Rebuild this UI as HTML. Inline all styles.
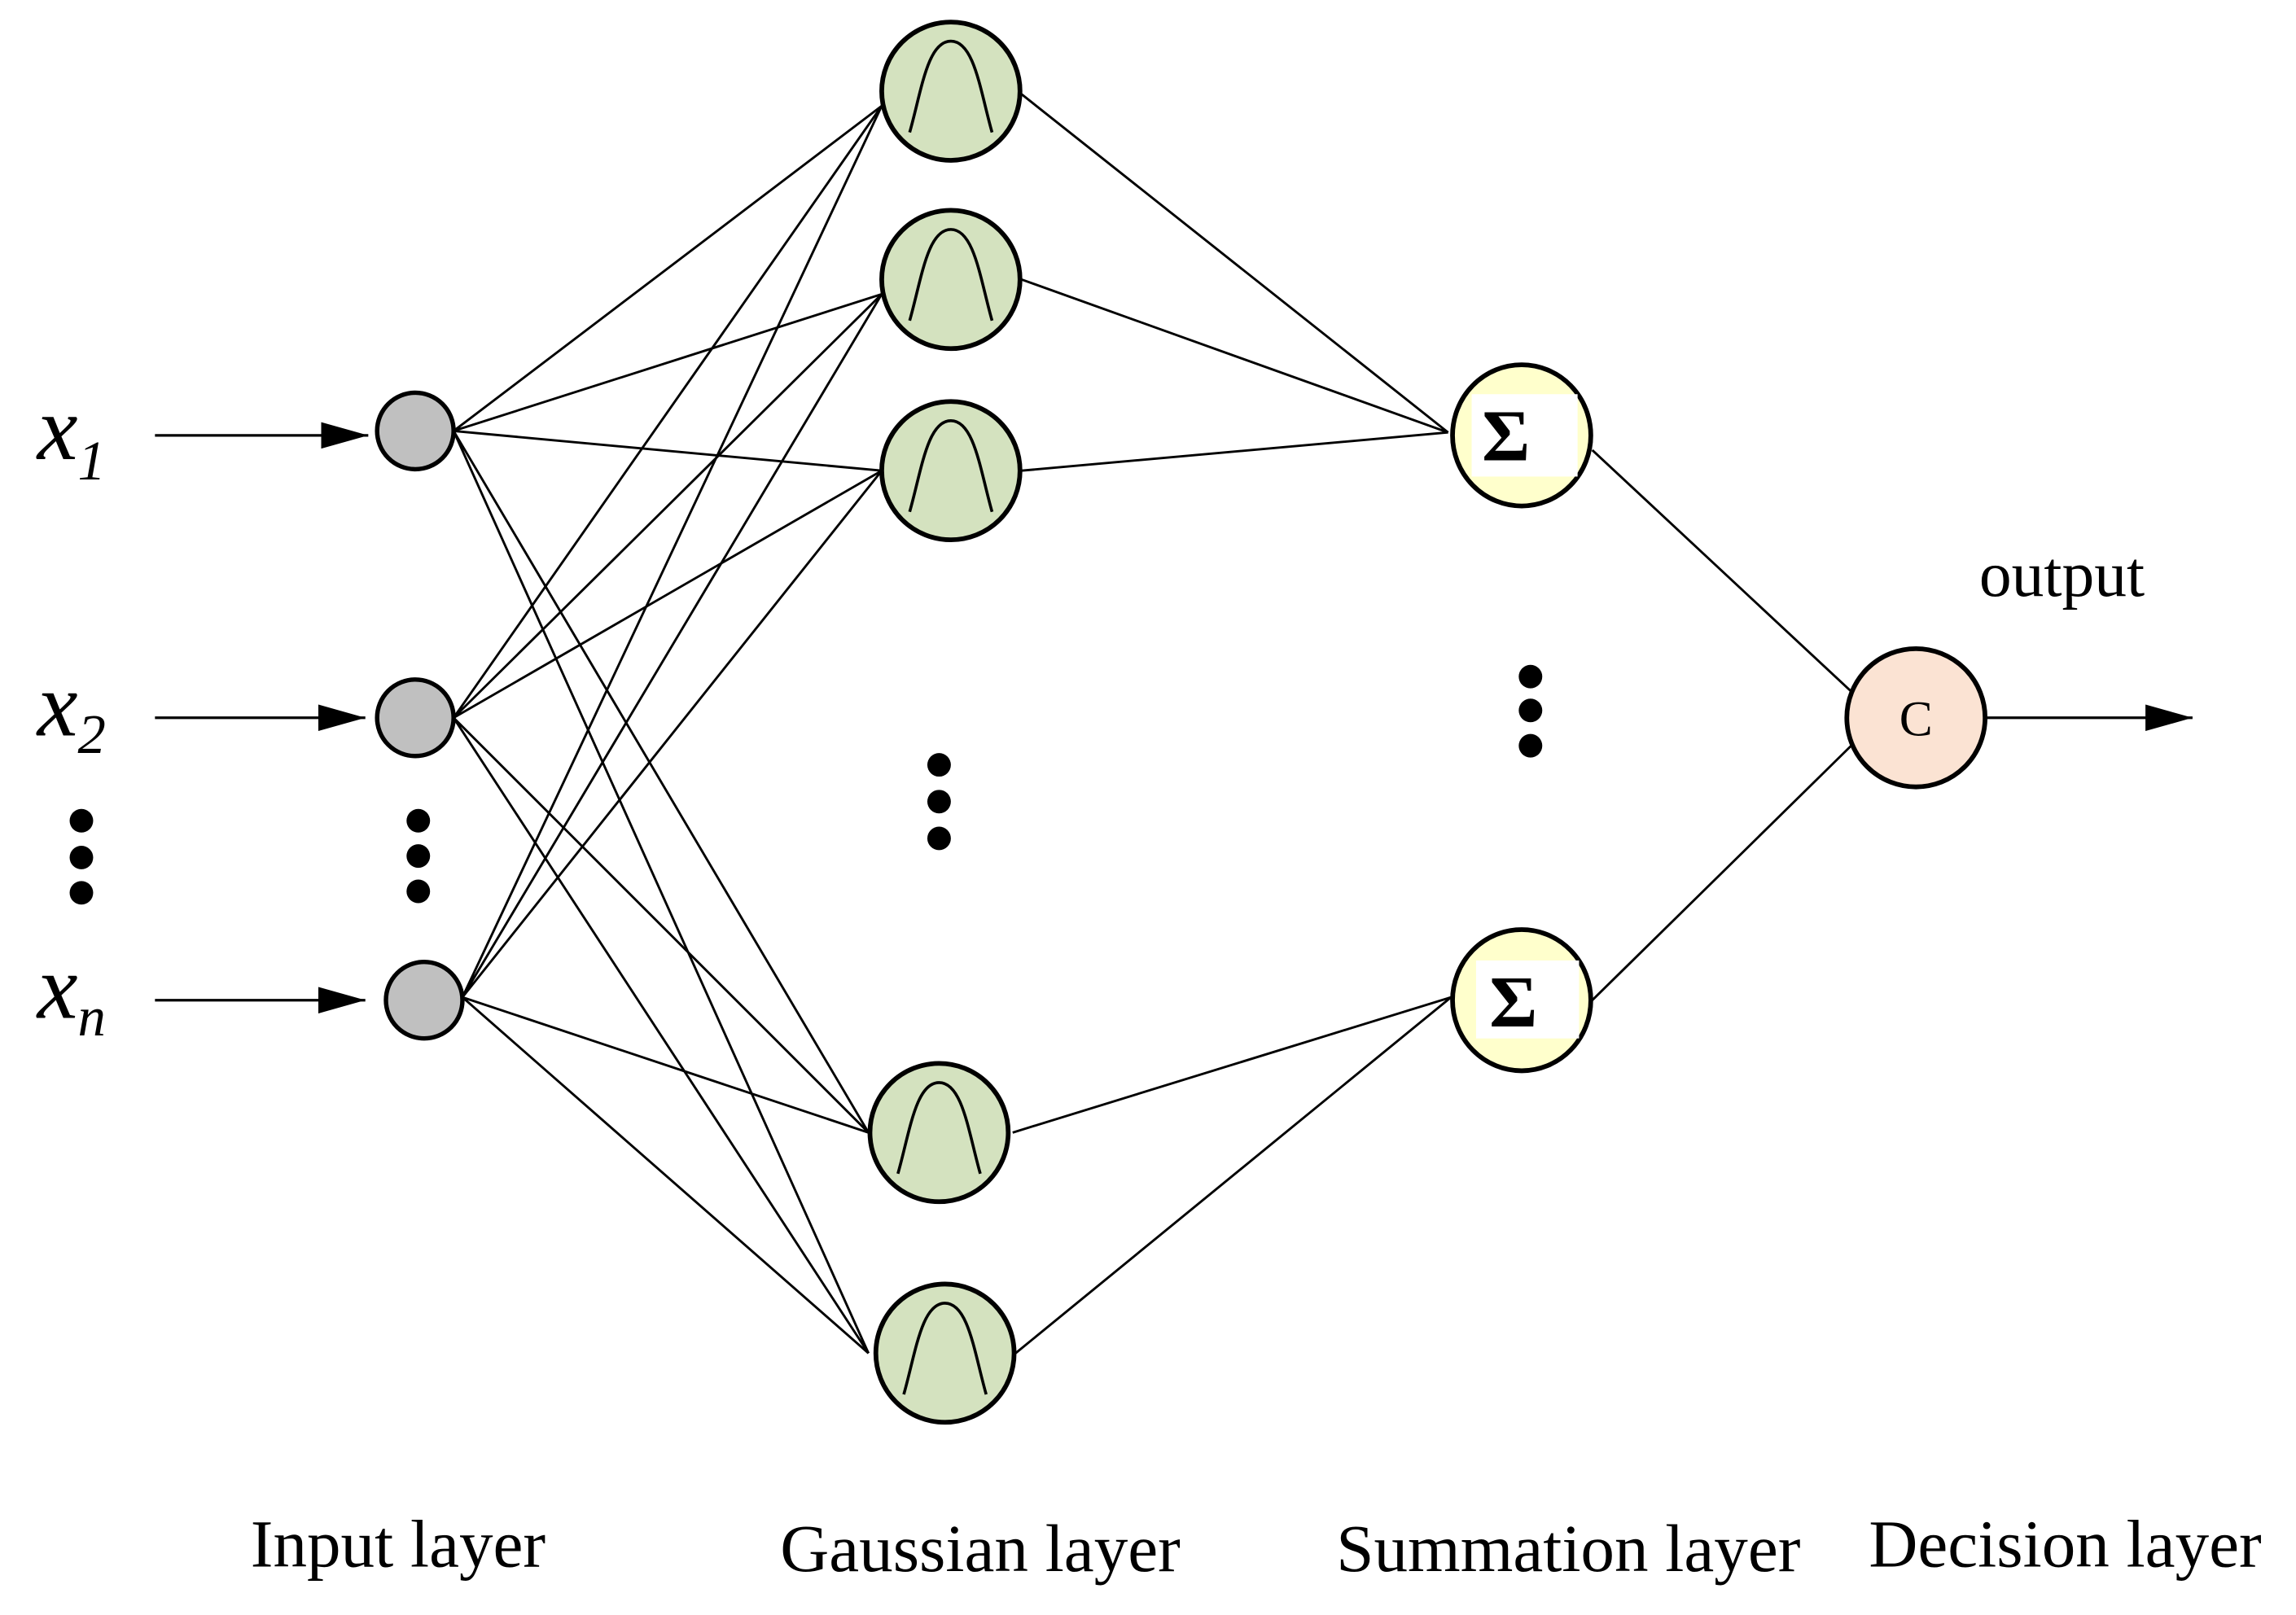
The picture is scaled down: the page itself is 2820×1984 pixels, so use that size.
<!DOCTYPE html>
<html><head><meta charset="utf-8"><style>
html,body{margin:0;padding:0;background:#fff;}
svg{display:block;}
text{font-family:"Liberation Serif",serif;fill:#000;}
</style></head><body>
<svg width="2820" height="1984" viewBox="0 0 1560 1098" xmlns="http://www.w3.org/2000/svg">
<defs>
<marker id="ah2" markerWidth="32" markerHeight="18" refX="32" refY="9" orient="auto" markerUnits="userSpaceOnUse">
<path d="M0,0 L32,9 L0,18 Z" fill="#000"/></marker>
<path id="g" d="M-28,28 C-20,0 -16,-34 0,-34 C16,-34 20,0 28,28" fill="none" stroke="#000" stroke-width="2"/>
</defs>
<g stroke="#000" stroke-width="1.6" fill="none">
<path d="M308,293 L599,72 M308,293 L599,200 M308,293 L599,320 M308,293 L590,770 M308,293 L590,920"/>
<path d="M308,488 L599,72 M308,488 L599,200 M308,488 L599,320 M308,488 L590,770 M308,488 L590,920"/>
<path d="M314,678 L599,72 M314,678 L599,200 M314,678 L599,320 M314,678 L590,770 M314,678 L590,920"/>
<path d="M694,64 L984,294 M694,190 L984,294 M694,320 L984,294"/>
<path d="M688,770 L986,678 M690,920 L986,678"/>
<path d="M1082,306 L1260,472 M1082,680 L1260,505"/>
</g>
<g stroke="#000" stroke-width="1.8">
<line x1="105" y1="296" x2="250" y2="296" marker-end="url(#ah2)"/>
<line x1="105" y1="488" x2="248" y2="488" marker-end="url(#ah2)"/>
<line x1="105" y1="680" x2="248" y2="680" marker-end="url(#ah2)"/>
<line x1="1350" y1="488" x2="1490" y2="488" marker-end="url(#ah2)"/>
</g>
<g fill="#c0c0c0" stroke="#000" stroke-width="3">
<circle cx="282" cy="293" r="26"/>
<circle cx="282" cy="488" r="26"/>
<circle cx="288" cy="680" r="26"/>
</g>
<g fill="#d4e2bf" stroke="#000" stroke-width="3.2">
<ellipse cx="646" cy="62" rx="47" ry="47"/>
<ellipse cx="646" cy="190" rx="47" ry="47"/>
<ellipse cx="646" cy="320" rx="47" ry="47"/>
<ellipse cx="638" cy="770" rx="47" ry="47"/>
<ellipse cx="642" cy="920" rx="47" ry="47"/>
</g>
<use href="#g" transform="translate(646,62)"/>
<use href="#g" transform="translate(646,190)"/>
<use href="#g" transform="translate(646,320)"/>
<use href="#g" transform="translate(638,770)"/>
<use href="#g" transform="translate(642,920)"/>
<g fill="#ffffcc" stroke="#000" stroke-width="3.2">
<ellipse cx="1034" cy="296" rx="47" ry="48"/>
<ellipse cx="1034" cy="680" rx="47" ry="48"/>
</g>
<rect x="1000" y="268" width="72" height="56" fill="#fff"/>
<rect x="1003" y="653" width="70" height="53" fill="#fff"/>
<text x="1007" y="313" font-size="50" font-weight="bold">Σ</text>
<text x="1012" y="698" font-size="50" font-weight="bold">Σ</text>
<circle cx="1302" cy="488" r="47" fill="#fbe3d3" stroke="#000" stroke-width="3.2"/>
<text x="1302" y="500" font-size="34" text-anchor="middle">C</text>
<g fill="#000">
<circle cx="55" cy="558" r="8"/><circle cx="55" cy="583" r="8"/><circle cx="55" cy="607" r="8"/>
<circle cx="284" cy="558" r="8"/><circle cx="284" cy="582" r="8"/><circle cx="284" cy="606" r="8"/>
<circle cx="638" cy="520" r="8"/><circle cx="638" cy="545" r="8"/><circle cx="638" cy="570" r="8"/>
<circle cx="1040" cy="460" r="8"/><circle cx="1040" cy="483" r="8"/><circle cx="1040" cy="507" r="8"/>
</g>
<text x="25" y="312" font-size="62" font-style="italic">x<tspan font-size="38" dy="14">1</tspan></text>
<text x="25" y="500" font-size="62" font-style="italic">x<tspan font-size="38" dy="12">2</tspan></text>
<text x="25" y="692" font-size="62" font-style="italic">x<tspan font-size="38" dy="12">n</tspan></text>
<text x="1345" y="405" font-size="44">output</text>
<text x="170" y="1065" font-size="46">Input layer</text>
<text x="530" y="1068" font-size="46">Gaussian layer</text>
<text x="908" y="1068" font-size="46">Summation layer</text>
<text x="1270" y="1065" font-size="46">Decision layer</text>
</svg>
</body></html>
